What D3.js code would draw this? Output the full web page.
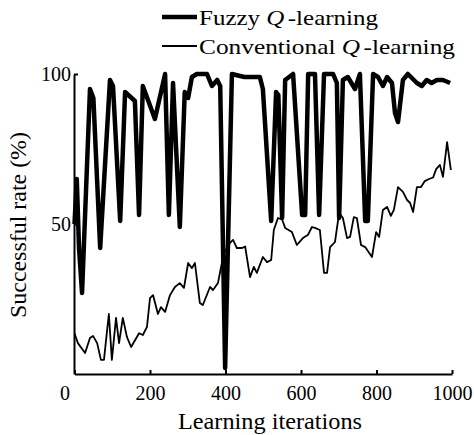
<!DOCTYPE html>
<html>
<head>
<meta charset="utf-8">
<script src="https://cdn.jsdelivr.net/npm/d3@7"></script>
<style>
  html, body { margin: 0; padding: 0; background: #fff; }
  svg { display: block; }
  text { font-family: "Liberation Serif", "Times New Roman", serif; fill: #000; }
</style>
</head>
<body>
<script>
// ---- data ----
const fuzzyIter = [0, 6, 12, 20, 41, 50, 68, 94, 102, 121, 134, 160, 171, 181, 213, 240, 250, 261, 279, 292, 301, 311, 324, 351, 364, 378, 386, 399, 417, 450, 465, 491, 499, 521, 534, 540, 550, 558, 579, 603, 611, 619, 637, 648, 661, 685, 695, 701, 711, 724, 743, 756, 770, 777, 791, 804, 817, 828, 841, 849, 857, 870, 883, 907, 920, 933, 946, 960, 976, 995];
const fuzzyRate = [50, 65, 42, 27, 95, 92, 42, 98, 96, 51, 94, 91, 53, 96, 85, 100, 53, 97, 49, 94, 92, 99, 100, 100, 96, 98, 96, 2, 100, 99, 99, 99, 95, 51, 94, 93, 52, 98, 100, 53, 53, 100, 100, 53, 100, 100, 97, 52, 98, 99, 95, 100, 51, 51, 100, 99, 96, 99, 97, 87, 84, 98, 100, 97, 96, 98, 97, 98, 98, 97];

const convIter = [0, 9, 28, 41, 49, 60, 70, 78, 91, 99, 110, 118, 128, 139, 150, 171, 181, 192, 200, 208, 221, 229, 240, 253, 266, 279, 290, 301, 311, 319, 332, 340, 359, 367, 380, 395, 412, 420, 430, 444, 452, 465, 475, 483, 499, 510, 521, 528, 539, 550, 558, 576, 589, 605, 618, 629, 637, 650, 661, 669, 677, 690, 701, 711, 722, 730, 740, 748, 759, 770, 788, 799, 807, 817, 828, 838, 846, 857, 870, 881, 889, 897, 907, 918, 928, 939, 950, 958, 968, 976, 987, 997];
const convRate = [13.6, 10.3, 7, 12, 12.7, 10.3, 4.7, 4.7, 20, 4.7, 18.7, 10.3, 18.7, 12.3, 9, 13.6, 13, 15.7, 25.3, 26.3, 20, 22.3, 20.7, 26.3, 29, 30.3, 28.7, 37, 35.3, 37, 23.7, 23, 29, 28, 30.3, 40, 43.7, 44.7, 42, 42, 42.5, 32.3, 35.7, 33.7, 39, 37.3, 38, 48, 52, 51.5, 48.7, 47.3, 43, 45.3, 46.3, 49, 48.7, 48, 33.7, 33.7, 42.3, 44, 53.7, 52, 45.3, 45.7, 52.3, 52, 43, 42.3, 39, 47.3, 45.7, 54.7, 55.7, 52.7, 54.7, 62.3, 60.7, 58, 57, 54, 62.3, 62.3, 64.3, 65, 65.5, 68.3, 69.7, 65.7, 77.3, 68];

const xTicks = [0, 200, 400, 600, 800, 1000];
const yTicks = [50, 100];
const seriesNames = ["Fuzzy ", "Conventional "];
const xTitle = "Learning iterations";
const yTitle = "Successful rate (%)";

// ---- drawing ----
const W = 474, H = 435;
const serif = '"Liberation Serif", "Times New Roman", serif';
const svg = d3.select("body").append("svg").attr("width", W).attr("height", H);

const x = d3.scaleLinear().domain([0, 1000]).range([74.5, 452]);
const y = d3.scaleLinear().domain([0, 100]).range([374, 74]);

const line = d3.line().x(d => x(d[0])).y(d => y(d[1]));

const fuzzy = fuzzyIter.map((v, i) => [v, fuzzyRate[i]]);
const conv = convIter.map((v, i) => [v, convRate[i]]);

// series
svg.append("path").datum(conv).attr("d", line)
  .attr("fill", "none").attr("stroke", "#000").attr("stroke-width", 1.8)
  .attr("stroke-linejoin", "round");
svg.append("path").datum(fuzzy).attr("d", line)
  .attr("fill", "none").attr("stroke", "#000").attr("stroke-width", 4.5)
  .attr("stroke-linejoin", "round");

// axes
const xAxis = svg.append("g").attr("transform", `translate(0,${y(0)})`)
  .call(d3.axisBottom(x).tickValues(xTicks).tickFormat(d3.format("d"))
    .tickSizeInner(-4).tickSizeOuter(0).tickPadding(12));
const yAxis = svg.append("g").attr("transform", `translate(${x(0) - 0.5},0)`)
  .call(d3.axisLeft(y).tickValues(yTicks).tickFormat(d3.format("d"))
    .tickSizeInner(-4).tickSizeOuter(0).tickPadding(3));

[xAxis, yAxis].forEach(g => {
  g.select(".domain").attr("stroke", "#000").attr("stroke-width", 2);
  g.selectAll(".tick line").attr("stroke", "#000").attr("stroke-width", 2);
  g.selectAll(".tick text").style("font-family", serif)
    .style("font-size", "20px").attr("fill", "#000");
});
xAxis.selectAll(".tick text").filter(d => d === 0).attr("dx", -10);
yAxis.selectAll(".tick text").attr("dy", "0.3em");

// axis titles
svg.append("text").attr("x", 270).attr("y", 429).attr("text-anchor", "middle")
  .style("font-size", "23px")
  .attr("textLength", 184).attr("lengthAdjust", "spacingAndGlyphs").text(xTitle);
svg.append("text").attr("transform", `translate(26,225) rotate(-90)`)
  .attr("text-anchor", "middle").style("font-size", "23px")
  .attr("textLength", 186).attr("lengthAdjust", "spacingAndGlyphs").text(yTitle);

// legend
const legY = [17, 46];
const legW = [4.5, 1.8];
const legLen = [179, 256];
seriesNames.forEach((name, i) => {
  svg.append("line").attr("x1", 162).attr("x2", 197).attr("y1", legY[i]).attr("y2", legY[i])
    .attr("stroke", "#000").attr("stroke-width", legW[i]);
  const t = svg.append("text").attr("x", 199).attr("y", legY[i] + 8).style("font-size", "22px")
    .attr("textLength", legLen[i]).attr("lengthAdjust", "spacingAndGlyphs");
  t.append("tspan").text(name);
  t.append("tspan").style("font-style", "italic").text("Q");
  t.append("tspan").attr("dx", 3).text("-learning");
});
</script>
</body>
</html>
